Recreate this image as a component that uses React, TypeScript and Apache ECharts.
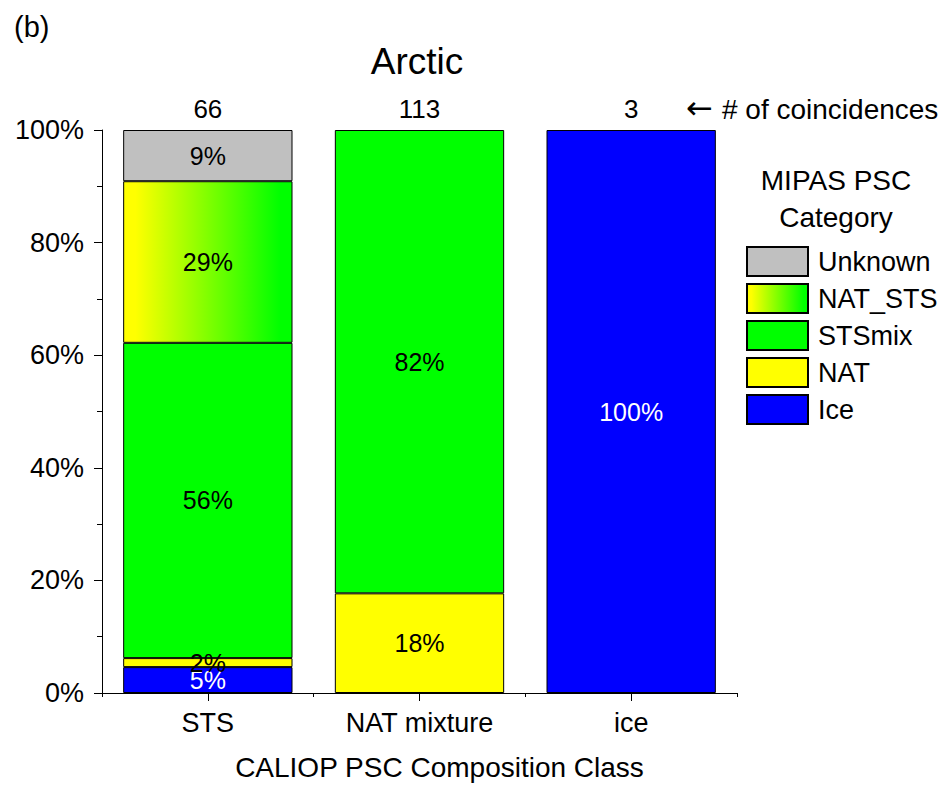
import React, { useEffect, useRef } from "react";
import * as echarts from "echarts";

const categories = ["STS", "NAT mixture", "ice"];
const iceValues = [4.6, 0, 100];
const natValues = [1.6, 17.7, 0];
const stsmixValues = [56.0, 82.3, 0];
const natStsValues = [28.7, 0, 0];
const unknownValues = [9.1, 0, 0];
const counts = [66, 113, 3];
const yTicks = [0, 20, 40, 60, 80, 100];
const legendOrder = ["Unknown", "NAT_STS", "STSmix", "NAT", "Ice"];

const FONT = "'Liberation Sans', Arial, sans-serif";

export default function App() {
  const ref = useRef<HTMLDivElement>(null);
  useEffect(() => {
    if (!ref.current) return;
    const chart = echarts.init(ref.current, undefined, { renderer: "svg" });
    const nz = (a: number[]) => a.map((v) => (v > 0 ? v : null));
    const gradient = new echarts.graphic.LinearGradient(0, 0, 1, 0, [
      { offset: 0, color: "#ffff00" },
      { offset: 0.07, color: "#ffff00" },
      { offset: 0.93, color: "#00ff00" },
      { offset: 1, color: "#00ff00" },
    ]);
    const mk = (name: string, data: number[], color: any, labelColor: string, offsetY = 0) => ({
      name,
      type: "bar",
      stack: "total",
      xAxisIndex: 0,
      barWidth: "80%",
      data: nz(data),
      itemStyle: { color, borderColor: "#000", borderWidth: 1 },
      label: {
        show: true,
        position: "inside",
        offset: [0, offsetY],
        color: labelColor,
        fontSize: 25,
        fontFamily: FONT,
        formatter: (p: any) => (p.value > 0 ? Math.round(p.value) + "%" : ""),
      },
      labelLayout: { hideOverlap: false },
    });
    const option: any = {
      animation: false,
      textStyle: { fontFamily: FONT },
      grid: { left: 102, right: 209, top: 130, bottom: 91 },
      title: {
        text: "Arctic",
        left: 412,
        top: 38,
        textAlign: "center",
        textStyle: { fontSize: 37, fontWeight: "normal", color: "#000", fontFamily: FONT },
      },
      legend: {
        orient: "vertical",
        left: 746,
        top: 246,
        padding: 0,
        icon: "rect",
        itemWidth: 61,
        itemHeight: 29,
        itemGap: 6,
        data: legendOrder,
        textStyle: {
          fontSize: 27,
          lineHeight: 29,
          color: "#000",
          fontFamily: FONT,
          padding: [0, 0, 0, 5],
        },
      },
      xAxis: [
        {
          type: "category",
          data: categories,
          position: "bottom",
          axisLine: { show: true, lineStyle: { color: "#000", width: 1 } },
          axisTick: { show: true, alignWithLabel: true, length: 8, lineStyle: { color: "#000" } },
          axisLabel: { fontSize: 27, color: "#000", margin: 16, fontFamily: FONT },
          name: "CALIOP PSC Composition Class",
          nameLocation: "middle",
          nameGap: 60,
          nameTextStyle: {
            fontSize: 28,
            color: "#000",
            fontFamily: FONT,
            padding: [0, 0, 0, 40],
          },
        },
        {
          type: "category",
          data: categories,
          position: "bottom",
          axisLine: { show: false },
          axisTick: { show: true, alignWithLabel: false, length: 4, lineStyle: { color: "#000" } },
          axisLabel: { show: false },
        },
      ],
      yAxis: {
        type: "value",
        min: 0,
        max: 100,
        interval: 20,
        axisLine: { show: true, lineStyle: { color: "#000", width: 1 } },
        axisTick: { show: true, length: 8, lineStyle: { color: "#000" } },
        minorTick: { show: true, splitNumber: 2, length: 5, lineStyle: { color: "#000" } },
        splitLine: { show: false },
        axisLabel: {
          fontSize: 27,
          color: "#000",
          margin: 18,
          fontFamily: FONT,
          formatter: (v: number) => (yTicks.includes(v) ? v + "%" : ""),
        },
      },
      series: [
        mk("Ice", iceValues, "#0000ff", "#ffffff"),
        mk("NAT", natValues, "#ffff00", "#000000", -4),
        mk("STSmix", stsmixValues, "#00ff00", "#000000"),
        mk("NAT_STS", natStsValues, gradient, "#000000"),
        mk("Unknown", unknownValues, "#c0c0c0", "#000000"),
        {
          name: "counts",
          type: "scatter",
          xAxisIndex: 0,
          data: counts.map(() => 100),
          symbolSize: 1,
          itemStyle: { color: "rgba(0,0,0,0)", opacity: 1 },
          silent: true,
          label: {
            show: true,
            position: "top",
            distance: 8,
            fontSize: 26,
            color: "#000",
            opacity: 1,
            fontFamily: FONT,
            formatter: (p: any) => String(counts[p.dataIndex]),
          },
        },
      ],
      graphic: [
        {
          type: "text",
          left: 14,
          top: 12,
          style: { text: "(b)", fontSize: 29, fill: "#000", fontFamily: FONT },
        },
        {
          type: "text",
          x: 686,
          y: 108,
          style: {
            text: "←",
            fontSize: 32,
            fill: "#000",
            fontFamily: "'DejaVu Sans', sans-serif",
            verticalAlign: "middle",
          },
        },
        {
          type: "text",
          x: 722,
          y: 109,
          style: {
            text: "# of coincidences",
            fontSize: 28,
            fill: "#000",
            fontFamily: FONT,
            verticalAlign: "middle",
          },
        },
        {
          type: "text",
          x: 836,
          y: 162,
          style: {
            text: "MIPAS PSC\nCategory",
            fontSize: 28,
            lineHeight: 37,
            fill: "#000",
            fontFamily: FONT,
            align: "center",
            verticalAlign: "top",
          },
        },
      ],
    };
    chart.setOption(option);
    return () => chart.dispose();
  }, []);
  return (
    <div
      ref={ref}
      style={{ position: "absolute", left: 0, top: 0, width: 946, height: 786 }}
    />
  );
}
